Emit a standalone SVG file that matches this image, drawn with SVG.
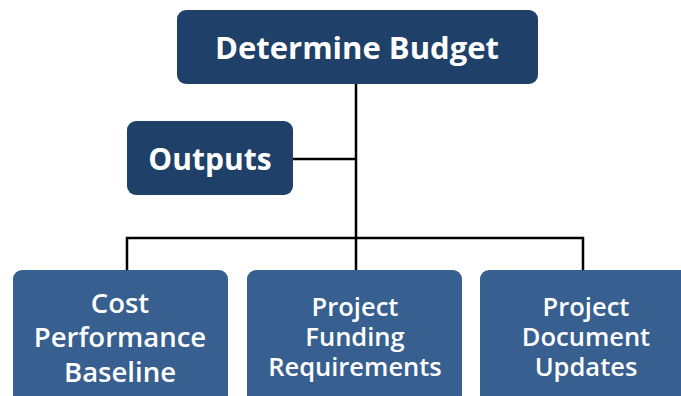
<svg xmlns="http://www.w3.org/2000/svg" width="681" height="396" viewBox="0 0 681 396">
<style>
.dark{fill:#1f4068;}
.mid{fill:#375f90;}
.t{font-family:"Open Sans",Lato,sans-serif;font-weight:bold;fill:#ffffff;text-anchor:middle;}
.s{font-weight:600;}
.c{stroke:#000;stroke-width:2.5;fill:none;}
</style>
<rect width="681" height="396" fill="#fff"/>
<g id="connectors">
<path class="c" d="M356 84V270M293 159H356M127 270V238H583V270"/>
</g>
<g id="determine-budget">
<rect class="dark" x="177" y="10" width="361" height="74" rx="9"/>
<text class="t" x="357" y="59" font-size="31">Determine Budget</text>
</g>
<g id="outputs">
<rect class="dark" x="127" y="121" width="166" height="74" rx="9"/>
<text class="t" x="210" y="170" font-size="30">Outputs</text>
</g>
<g id="cost-performance-baseline">
<rect class="mid" x="13" y="270" width="215" height="140" rx="9"/>
<text class="t s" x="120" y="313" font-size="27.5">Cost</text>
<text class="t s" x="120" y="347" font-size="27.5">Performance</text>
<text class="t s" x="120" y="382" font-size="27.5">Baseline</text>
</g>
<g id="project-funding-requirements">
<rect class="mid" x="247" y="270" width="215" height="140" rx="9"/>
<text class="t s" x="355" y="316" font-size="25.5">Project</text>
<text class="t s" x="355" y="346" font-size="25.5">Funding</text>
<text class="t s" x="355" y="376" font-size="25.5">Requirements</text>
</g>
<g id="project-document-updates">
<rect class="mid" x="480" y="270" width="215" height="140" rx="9"/>
<text class="t s" x="586" y="316" font-size="25.5">Project</text>
<text class="t s" x="586" y="346" font-size="25.5">Document</text>
<text class="t s" x="586" y="376" font-size="25.5">Updates</text>
</g>
</svg>
